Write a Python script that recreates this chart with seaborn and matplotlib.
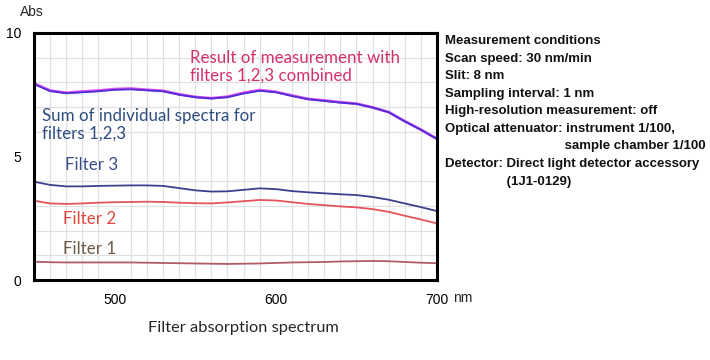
import pandas as pd
import seaborn as sns
import numpy as np
import matplotlib.pyplot as plt

# wavelength grid (nm) and absorbance
wavelength = [450, 460, 470, 480, 490, 500, 510, 520, 530, 540, 550, 560, 570,
              580, 590, 600, 610, 620, 630, 640, 650, 660, 670, 680, 690, 700]

measured = [7.96, 7.67, 7.58, 7.63, 7.67, 7.73, 7.75, 7.70, 7.66, 7.52, 7.41, 7.36, 7.42,
            7.58, 7.69, 7.62, 7.47, 7.33, 7.27, 7.20, 7.14, 6.99, 6.80, 6.43, 6.09, 5.71]
sum_spectra = [7.93, 7.65, 7.56, 7.60, 7.64, 7.70, 7.72, 7.68, 7.64, 7.50, 7.40, 7.35, 7.40,
               7.55, 7.66, 7.60, 7.45, 7.32, 7.25, 7.18, 7.13, 6.98, 6.79, 6.42, 6.08, 5.71]
filter3 = [3.98, 3.85, 3.79, 3.79, 3.81, 3.82, 3.83, 3.83, 3.81, 3.72, 3.63, 3.58, 3.59,
           3.65, 3.71, 3.68, 3.60, 3.55, 3.51, 3.47, 3.44, 3.36, 3.25, 3.10, 2.95, 2.79]
filter2 = [3.21, 3.10, 3.08, 3.10, 3.13, 3.15, 3.16, 3.17, 3.16, 3.13, 3.11, 3.10, 3.14,
           3.19, 3.24, 3.22, 3.15, 3.08, 3.03, 2.98, 2.94, 2.87, 2.76, 2.60, 2.45, 2.29]
filter1 = [0.74, 0.72, 0.71, 0.71, 0.71, 0.71, 0.71, 0.70, 0.69, 0.68, 0.67, 0.66, 0.65,
           0.66, 0.67, 0.69, 0.71, 0.72, 0.73, 0.75, 0.76, 0.77, 0.76, 0.73, 0.70, 0.68]

x_ticks = [500, 600, 700]
y_ticks = [0, 5, 10]

conditions = ["Measurement conditions",
              "Scan speed: 30 nm/min",
              "Slit: 8 nm",
              "Sampling interval: 1 nm",
              "High-resolution measurement: off",
              "Optical attenuator: instrument 1/100,",
              "                                 sample chamber 1/100",
              "Detector: Direct light detector accessory",
              "                 (1J1-0129)"]

sns.set_style("white")
plt.rcParams['font.family'] = ['Liberation Sans', 'DejaVu Sans']

fig = plt.figure(figsize=(7.1, 3.6), dpi=100)
ax = fig.add_axes([34 / 710, 80 / 360, 403 / 710, 247 / 360])

# grid every 10 nm / 1 Abs
ax.set_xticks(np.arange(450, 701, 10), minor=True)
ax.set_yticks(np.arange(0, 11, 1), minor=True)
ax.grid(which="minor", color="#e0e0e0", linewidth=0.9)
ax.set_axisbelow(True)

sns.lineplot(x=wavelength, y=filter1, ax=ax, color="#b05a66", linewidth=1.3)
sns.lineplot(x=wavelength, y=filter2, ax=ax, color="#e2555a", linewidth=1.3)
sns.lineplot(x=wavelength, y=filter3, ax=ax, color="#3b3f8c", linewidth=1.3)
sns.lineplot(x=wavelength, y=measured, ax=ax, color="#e04ef0", linewidth=2.0)
sns.lineplot(x=wavelength, y=sum_spectra, ax=ax, color="#4a2fd6", linewidth=1.3)

ax.set_xlim(450, 700)
ax.set_ylim(0, 10)
ax.set_xticks(x_ticks)
ax.set_yticks(y_ticks)
ax.tick_params(which="major", direction="out", length=7, width=2.2,
               labelsize=10, colors="black", pad=2)
ax.tick_params(which="minor", length=0)
for s in ax.spines.values():
    s.set_visible(True)
    s.set_color("black")
    s.set_linewidth(2.2)
ax.set_xlabel("")
ax.set_ylabel("")

lab_font = "Lato"
ax.text(547, 8.62, "Result of measurement with\nfilters 1,2,3 combined", color="#d4306e",
        fontsize=12.2, family=lab_font, ha="left", va="center", linespacing=1.1)
ax.text(455, 6.28, "Sum of individual spectra for\nfilters 1,2,3", color="#2f4d80",
        fontsize=12.2, family=lab_font, ha="left", va="center", linespacing=1.1)
ax.text(469, 4.66, "Filter 3", color="#3d4f8a", fontsize=12.2, family=lab_font, va="center")
ax.text(468, 2.47, "Filter 2", color="#e0473f", fontsize=12.2, family=lab_font, va="center")
ax.text(468, 1.26, "Filter 1", color="#6b5a45", fontsize=12.2, family=lab_font, va="center")

fig.text(20 / 710, 1 - 12 / 360, "Abs", fontsize=10, ha="left", va="center")
fig.text(453 / 710, 1 - 298 / 360, "nm", fontsize=10, ha="left", va="center")
fig.text(243 / 710, 1 - 328 / 360, "Filter absorption spectrum", fontsize=11.8,
         family=lab_font, ha="center", va="center")

fig.text(445 / 710, 1 - 35 / 360, "\n".join(conditions), fontsize=9.5, fontweight="bold",
         ha="left", va="top", linespacing=1.62, color="#111111")

fig.savefig("out.png", dpi=100)
